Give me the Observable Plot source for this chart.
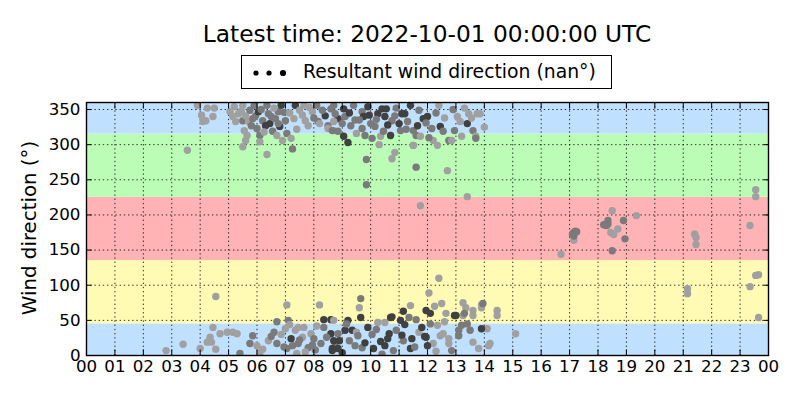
<!DOCTYPE html>
<html>
<head>
<meta charset="utf-8">
<script src="https://cdn.jsdelivr.net/npm/d3@7"></script>
<script src="https://cdn.jsdelivr.net/npm/@observablehq/plot@0.6"></script>
<style>
  body { margin: 0; background: #fff; }
  #wrap { position: relative; width: 800px; height: 400px; font-family: "DejaVu Sans", sans-serif; overflow: hidden; }
  #title { position: absolute; left: 86px; width: 682px; top: 20px; text-align: center; font-size: 23.3px; line-height: 28px; color: #000; }
  #legend { position: absolute; left: 241px; top: 55px; width: 369px; height: 32px; border: 1.4px solid #000; background: #fff; }
  #legend svg { position: absolute; left: 0; top: 0; }
  #legend span { position: absolute; left: 61px; top: 5px; font-size: 18.8px; line-height: 22px; white-space: nowrap; }
  #ylab { position: absolute; left: 29px; top: 228px; transform: translate(-50%, -50%) rotate(-90deg); font-size: 19.8px; white-space: nowrap; }
  #chart { position: absolute; left: 0; top: 0; }
</style>
</head>
<body>
<div id="wrap">
  <div id="chart"></div>
  <div id="title"></div>
  <div id="legend"><svg width="60" height="32"></svg><span></span></div>
  <div id="ylab"></div>
</div>
<script>
const titleText = "Latest time: 2022-10-01 00:00:00 UTC";
const legendText = "Resultant wind direction (nan°)";
const yLabel = "Wind direction (°)";

const hourTicks = [0,1,2,3,4,5,6,7,8,9,10,11,12,13,14,15,16,17,18,19,20,21,22,23,24];
const hourLabels = ["00","01","02","03","04","05","06","07","08","09","10","11","12","13","14","15","16","17","18","19","20","21","22","23","00"];
const dirTicks = [0,50,100,150,200,250,300,350];

const bandLo = [0, 45, 135, 225, 315];
const bandHi = [45, 135, 225, 315, 360];
const bandColors = ["#bfe0ff", "#fffbb4", "#ffb3b5", "#bbfdb6", "#bfe0ff"];

const toneColors = {L: "#a0a0a0", M: "#7a7a7a", D: "#404040"};

const hours = [
  // early sparse
  2.8,3.4,3.55,4.0,3.9,4.05,4.2,4.25,4.45,4.5,4.1,4.55,
  4.45,4.35,4.4,4.25,4.55,4.7,4.95,5.15,5.3,5.4,
  // top 5-9h
  5.2,5.15,5.25,5.35,5.5,5.5,5.6,5.7,5.75,5.65,5.6,5.5,
  5.9,5.95,6.05,6.0,6.1,6.1,6.2,6.3,6.35,6.4,6.45,6.35,
  6.55,6.65,6.7,6.75,6.8,6.85,6.9,7.0,7.05,7.25,7.35,7.3,
  7.5,7.65,7.7,7.8,7.95,8.1,8.15,8.4,8.5,8.6,8.7,8.85,
  5.45,5.8,6.15,6.5,6.6,6.95,7.15,7.4,7.6,7.85,8.0,8.3,
  5.55,6.25,7.2,8.2,8.5,5.05,5.85,6.75,
  // bottom 5-9h
  5.85,5.75,6.0,6.1,6.4,6.6,6.7,6.7,7.05,7.1,7.0,7.2,
  7.35,7.45,7.65,7.45,7.05,7.8,7.25,7.6,7.9,8.2,8.35,8.6,
  8.35,8.6,8.75,8.25,8.65,8.0,8.85,
  6.2,6.5,6.85,7.15,7.5,7.7,7.95,8.1,8.45,6.95,7.4,8.05,
  // top 8.6-14.5h
  8.7,8.75,8.7,8.65,8.85,9.05,9.1,9.05,9.2,9.3,9.4,9.5,
  9.7,9.75,9.7,9.8,9.9,10.0,10.05,10.15,10.25,10.35,10.4,10.45,
  10.5,10.55,10.7,10.75,10.85,11.05,11.1,11.2,11.3,11.4,11.5,11.5,
  11.6,11.7,11.75,11.85,12.0,12.15,12.2,12.35,12.4,12.45,12.55,12.75,
  12.85,12.95,13.05,13.15,13.2,13.4,13.45,13.6,13.7,13.75,13.85,13.7,
  9.0,9.25,9.6,9.95,10.2,10.6,10.9,11.0,11.25,11.65,11.95,12.3,
  12.6,12.9,13.3,13.55,14.0,12.05,10.3,9.45,
  9.85,9.85,10.85,10.75,11.6,11.5,11.75,12.7,13.4,
  // bottom 8.6-15.1h
  8.7,8.85,8.7,8.9,8.65,9.2,9.1,9.35,9.25,9.45,9.7,9.65,
  9.6,9.65,9.5,10.1,10.25,10.5,10.6,10.5,10.8,10.75,11.05,11.15,
  11.35,11.4,11.15,11.45,11.4,11.7,11.95,11.95,12.1,12.05,12.4,12.25,
  12.5,12.1,12.35,12.55,12.2,12.75,12.65,12.95,13.1,13.25,13.35,13.25,
  13.2,13.6,13.6,13.5,13.9,13.9,14.1,14.2,14.45,14.45,15.1,13.6,
  13.8,10.7,11.9,13.95,13.3,13.0,13.4,13.9,13.1,12.75,12.85,14.15,
  9.0,9.55,9.9,10.05,10.35,10.9,11.2,11.55,11.8,12.3,12.6,10.4,
  9.15,9.8,10.2,10.65,11.1,11.6,12.0,12.45,
  // afternoon / evening
  16.7,17.15,17.2,17.25,17.1,17.15,17.15,18.2,18.35,18.35,18.5,18.45,
  18.55,18.5,18.7,18.9,18.95,19.35,21.4,21.45,21.45,21.15,21.15,23.55,
  23.55,23.35,23.55,23.65,23.35,23.65,18.25,18.3
];

const dirs = [
  7,16,292,10,356,342,334,352,340,352,333,84,
  40,26,19,19,9,31,33,33,31,3,
  354,340,333,344,356,334,341,333,349,313,306,297,
  356,341,347,323,313,304,334,327,356,344,330,286,
  319,337,313,347,326,356,306,334,316,294,356,337,
  349,356,334,327,347,356,333,341,327,351,320,337,
  348,327,350,340,352,346,345,322,342,353,338,349,
  320,318,309,330,323,347,337,330,
  28,17,14,4,21,33,17,48,72,50,38,24,
  36,40,40,17,10,11,14,26,31,72,51,51,
  40,31,19,17,7,24,10,
  9,27,30,44,22,5,15,42,26,12,3,8,
  356,344,333,320,319,351,340,312,303,327,356,316,
  347,340,323,313,354,330,309,326,344,312,351,319,
  340,351,313,334,341,320,344,344,333,356,320,299,
  313,349,312,337,340,323,306,299,356,326,319,306,
  306,320,340,333,312,330,344,320,312,344,344,309,
  330,345,335,342,336,328,352,330,322,327,331,345,
  338,350,352,338,325,310,300,335,
  279,243,289,280,268,299,213,263,226,
  50,31,21,21,10,50,36,36,21,14,11,81,
  68,54,33,10,47,47,24,14,7,55,50,63,
  54,71,21,24,10,33,26,64,60,89,110,70,
  74,45,43,31,17,17,60,57,36,75,68,57,
  43,64,57,36,72,68,38,17,64,57,31,19,
  10,54,27,74,60,57,45,38,28,24,7,14,
  4,28,40,30,20,36,44,12,40,6,48,2,
  45,18,37,31,29,51,14,28,
  144,175,177,176,173,164,170,186,187,192,206,175,
  172,149,180,192,166,199,173,168,158,95,88,236,
  226,185,114,115,98,54,186,185
];

const tones = [
  "LLLLLLLLLLLL","LLLLLLLLLM",
  "LLLLLMLLMLLL","MMDMMLMDMMDL","MMLMDDLMMMDL","LLLLLMMDMMLD","LMMMLMLLLLMM","LLLLLLMM",
  "MMLLLMMMLMLD","LLLMMMMLLLDD","MDMMDMD","LMLLMLMLMMLM",
  "MMLMMDMDDMML","MDMMDMMMDLDM","DDDMMMDDMDMM","MMLDDMLLLDMM","LMLLLDLMLLLM","MDMDMDMDMDMM","LMLLLMLM","MMLLMLLLL",
  "LMDDDDDDMMMM","LDLDLLDDMDDD","MLMDDLDDDLLL","LMLLLLLDMLLL","MLLMLLLLLLLL","LDDMMDMDMLML","DMDMDMDMDLLM","MDMDDMDL",
  "LMMMMLMMMMLL","LMLMMLLLLLLL","LLLLLLMM"
].join("").split("");

const points = hours.map((h, i) => ({hour: h, dir: dirs[i], fill: toneColors[tones[i]] || toneColors.L}));
const bands = bandLo.map((lo, i) => ({lo, hi: bandHi[i], color: bandColors[i]}));

document.getElementById("title").textContent = titleText;
document.querySelector("#legend span").textContent = legendText;
document.getElementById("ylab").textContent = yLabel;
const lsvg = d3.select("#legend svg");
[[14, 2.6], [27, 2.6], [41, 3.1]].forEach(([cx, r]) => lsvg.append("circle").attr("cx", cx).attr("cy", 17).attr("r", r).attr("fill", "#000"));

const fmt = d => hourLabels[hourTicks.indexOf(d)];
const tick = 5.6;
const chart = Plot.plot({
  width: 800,
  height: 400,
  marginLeft: 86,
  marginRight: 32,
  marginTop: 102,
  marginBottom: 45,
  style: {fontFamily: "DejaVu Sans, sans-serif", fontSize: "16.7px", background: "transparent", color: "#000"},
  x: {domain: [0, 24], ticks: hourTicks},
  y: {domain: [0, 360], ticks: dirTicks},
  marks: [
    Plot.rect(bands, {y1: "lo", y2: "hi", fill: "color"}),
    Plot.gridX(hourTicks, {stroke: "#000", strokeOpacity: 1, strokeWidth: 0.8, strokeDasharray: "1.4,2.8"}),
    Plot.gridY(dirTicks, {stroke: "#000", strokeOpacity: 1, strokeWidth: 0.8, strokeDasharray: "1.4,2.8"}),
    Plot.dot(points, {x: "hour", y: "dir", fill: "fill", r: 3.7, clip: true}),
    Plot.frame({stroke: "#000", strokeWidth: 1.4}),
    Plot.axisX({anchor: "bottom", ticks: hourTicks, tickFormat: fmt, tickSize: -tick, tickPadding: tick + 5, label: null, fontSize: 16.7}),
    Plot.axisX({anchor: "top", ticks: hourTicks, tickFormat: () => "", tickSize: -tick, label: null}),
    Plot.axisY({anchor: "left", ticks: dirTicks, tickSize: -tick, tickPadding: tick + 6, label: null, fontSize: 16.7}),
    Plot.axisY({anchor: "right", ticks: dirTicks, tickFormat: () => "", tickSize: -tick, label: null})
  ]
});
document.getElementById("chart").appendChild(chart);
</script>
</body>
</html>
